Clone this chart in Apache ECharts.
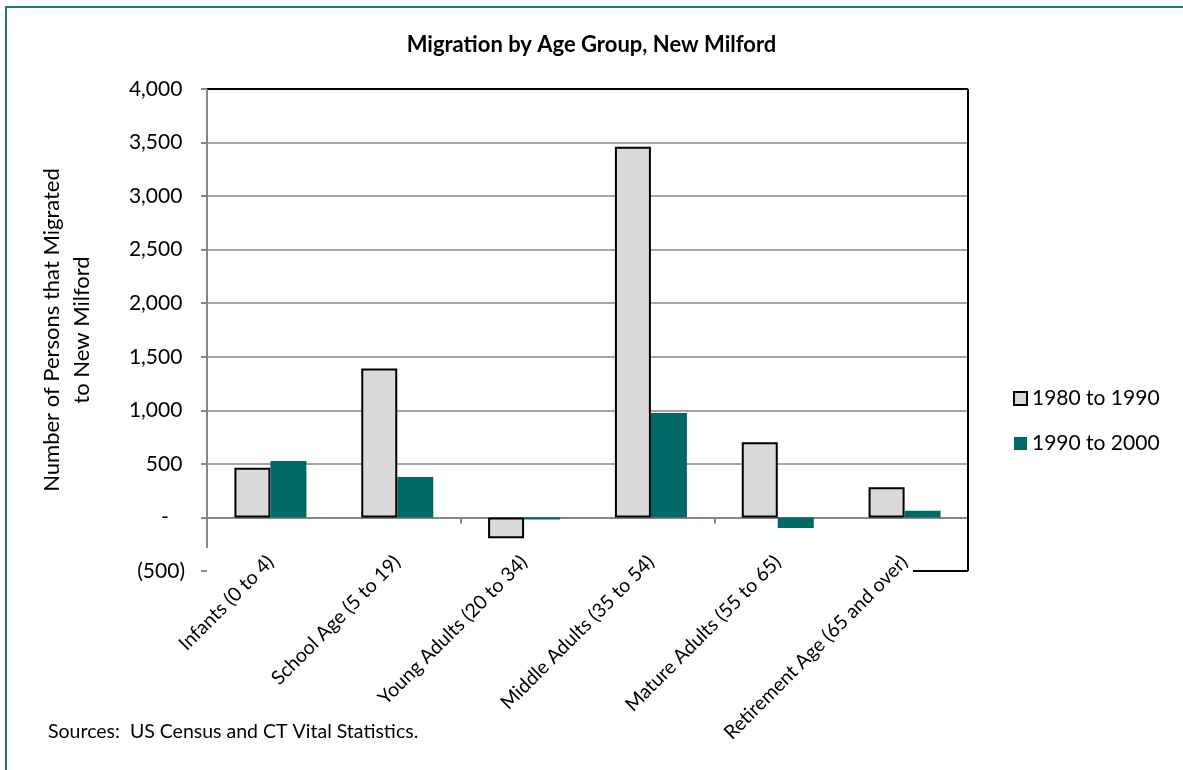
<!DOCTYPE html>
<html>
<head>
<meta charset="utf-8">
<script src="https://cdn.jsdelivr.net/npm/echarts@6/dist/echarts.min.js"></script>
<style>
html,body{margin:0;padding:0;background:#fff;}
#chart{width:1183px;height:770px;}
</style>
</head>
<body>
<div id="chart"></div>
<script>
const categories = ['Infants (0 to 4)', 'School Age (5 to 19)', 'Young Adults (20 to 34)', 'Middle Adults (35 to 54)', 'Mature Adults (55 to 65)', 'Retirement Age (65 and over)'];
const series1980 = [465, 1390, -195, 3460, 702, 282];
const series2000 = [527, 378, -20, 976, -98, 63];
const seriesNames = ['1980 to 1990', '1990 to 2000'];
const yMin = -500, yMax = 4000, yStep = 500;

const FONT = 'Lato';
const G = {left: 207, top: 89, right: 968, bottom: 571};

function fmt(v) {
  const a = Math.abs(v).toString().replace(/\B(?=(\d{3})+(?!\d))/g, ',');
  if (v === 0) return '-   ';
  if (v < 0) return '(' + a + ')';
  return a + '\u2009';
}

const chart = echarts.init(document.getElementById('chart'));
chart.setOption({
  backgroundColor: '#fff',
  animation: false,
  textStyle: {fontFamily: FONT, color: '#000'},
  title: {
    text: 'Migration by Age Group, New Milford',
    left: 'center', top: 29,
    textStyle: {fontFamily: FONT, fontSize: 22, fontWeight: 'bold', color: '#000'}
  },
  legend: {
    orient: 'vertical', left: 1008, top: 383,
    itemWidth: 13, itemHeight: 13, itemGap: 24,
    icon: 'rect',
    textStyle: {fontFamily: FONT, fontSize: 21, color: '#000'},
    data: seriesNames
  },
  grid: {left: G.left, top: G.top, width: G.right - G.left, height: G.bottom - G.top, containLabel: false},
  xAxis: [{
    type: 'category', data: categories,
    axisLine: {show: true, onZero: true, lineStyle: {color: '#868686', width: 2}},
    axisTick: {show: true, length: 6, lineStyle: {color: '#868686', width: 2}},
    axisLabel: {show: false},
    splitLine: {show: false}
  }, {
    type: 'category', data: categories, position: 'bottom',
    axisLine: {show: false, onZero: false},
    axisTick: {show: false},
    axisLabel: {show: true, rotate: 45, margin: -12, interval: 0, fontFamily: FONT, fontSize: 19.5, color: '#000'}
  }],
  yAxis: {
    type: 'value', min: yMin, max: yMax, interval: yStep,
    name: 'Number of Persons that Migrated\nto New Milford',
    nameLocation: 'middle', nameGap: 110, nameRotate: 90,
    nameTextStyle: {fontFamily: FONT, fontSize: 22, color: '#000', lineHeight: 30},
    axisLine: {show: false},
    axisTick: {show: true, length: 6, lineStyle: {color: '#868686', width: 2}},
    axisLabel: {formatter: fmt, margin: 22, fontFamily: FONT, fontSize: 21, color: '#000'},
    splitLine: {show: true, showMinLine: false, lineStyle: {color: '#a6a6a6', width: 2}}
  },
  series: [{
    name: seriesNames[0], type: 'bar', data: series1980,
    barWidth: 36, barGap: '0%',
    itemStyle: {color: '#d9d9d9', borderColor: '#000', borderWidth: 2}
  }, {
    name: seriesNames[1], type: 'bar', data: series2000,
    barWidth: 36, barGap: '0%',
    itemStyle: {color: '#006966'}
  }],
  graphic: [
    {type: 'rect', shape: {x: 6, y: 7, width: 1300, height: 900}, style: {fill: null, stroke: '#1f7a72', lineWidth: 2}, silent: true},
    {type: 'line', shape: {x1: G.left, y1: G.top, x2: G.right, y2: G.top}, style: {stroke: '#000', lineWidth: 2}, z: 10},
    {type: 'line', shape: {x1: G.right, y1: G.top, x2: G.right, y2: G.bottom}, style: {stroke: '#000', lineWidth: 2}, z: 10},
    {type: 'line', shape: {x1: 913, y1: G.bottom, x2: G.right, y2: G.bottom}, style: {stroke: '#000', lineWidth: 2}, z: 10},
    {type: 'line', shape: {x1: G.left, y1: G.top, x2: G.left, y2: 548}, style: {stroke: '#868686', lineWidth: 2}, z: 10},
    {type: 'text', left: 48, top: 722, style: {text: 'Sources:  US Census and CT Vital Statistics.', font: '19.5px ' + FONT, fill: '#000'}}
  ]
});
</script>
</body>
</html>
